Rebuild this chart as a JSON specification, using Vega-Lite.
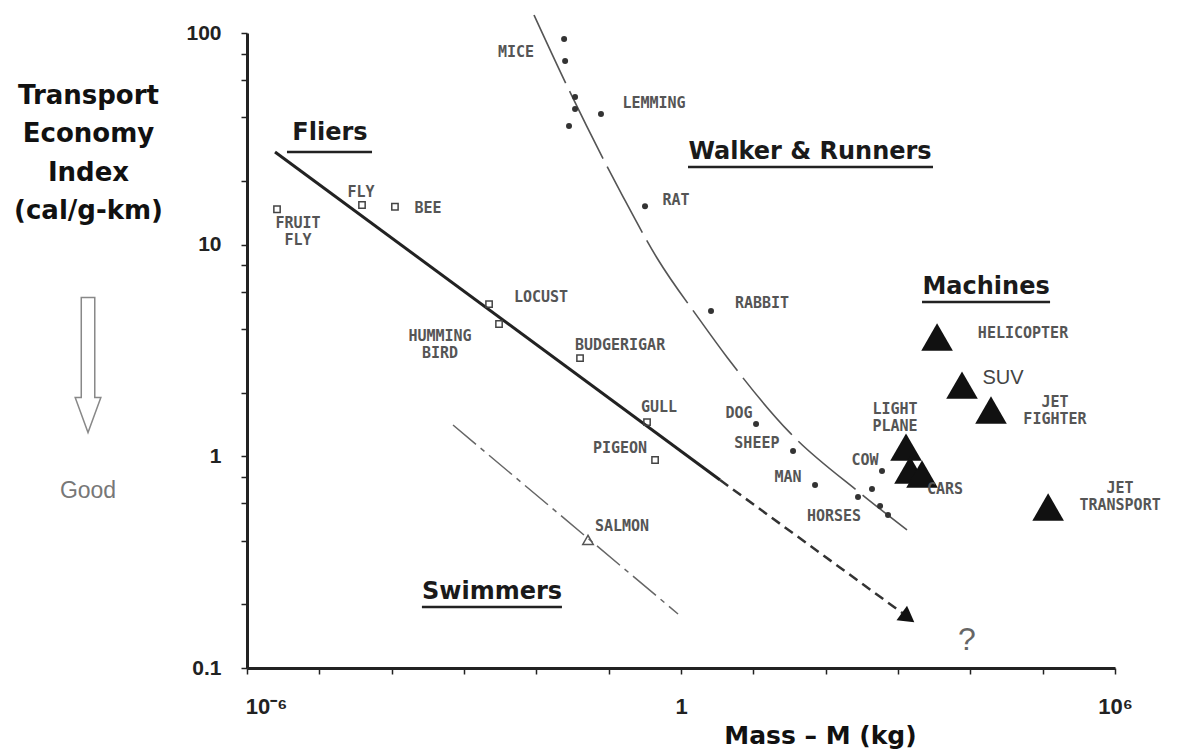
{
  "$schema": "https://vega.github.io/schema/vega-lite/v6.json",
  "width": 868,
  "height": 635,
  "autosize": {"type": "none"},
  "padding": {"left": 247, "top": 33, "right": 70, "bottom": 86},
  "background": "white",
  "config": {"view": {"stroke": null}, "axis": {"grid": false}},
  "datasets": {
    "walker_curve": [
      {"x": 0.00929, "y": 121.6}, {"x": 0.0274, "y": 55.0}, {"x": 0.153, "y": 17.2},
      {"x": 0.466, "y": 8.65}, {"x": 1.83, "y": 4.40}, {"x": 4.33, "y": 2.94},
      {"x": 32.2, "y": 1.29}, {"x": 299, "y": 0.671}, {"x": 1333, "y": 0.449}
    ],
    "fliers_line": [{"x": 2.44e-6, "y": 27.4}, {"x": 3.47, "y": 0.773}],
    "fliers_ext": [{"x": 3.47, "y": 0.773}, {"x": 1250, "y": 0.178}],
    "swim_line": [{"x": 7.05e-4, "y": 1.406}, {"x": 0.910, "y": 0.180}],
    "underlines": [
      {"x": 3.57e-6, "x2": 5.35e-5, "y": 27.4},
      {"x": 1.25, "x2": 3048, "y": 23.3},
      {"x": 2148, "x2": 126500, "y": 5.36},
      {"x": 2.62e-4, "x2": 0.0226, "y": 0.194}
    ],
    "fliers_pts": [
      {"name": "FRUIT FLY", "x": 2.60e-6, "y": 14.7},
      {"name": "FLY", "x": 3.89e-5, "y": 15.4},
      {"name": "BEE", "x": 1.11e-4, "y": 15.1},
      {"name": "LOCUST", "x": 2.22e-3, "y": 5.24},
      {"name": "HUMMING BIRD", "x": 3.05e-3, "y": 4.22},
      {"name": "BUDGERIGAR", "x": 0.0402, "y": 2.91},
      {"name": "GULL", "x": 0.339, "y": 1.452},
      {"name": "PIGEON", "x": 0.438, "y": 0.961}
    ],
    "walker_pts": [
      {"name": "MICE", "x": 0.0242, "y": 93.6},
      {"name": "MICE", "x": 0.0250, "y": 73.7},
      {"name": "MICE", "x": 0.0343, "y": 49.8},
      {"name": "MICE", "x": 0.0343, "y": 43.7},
      {"name": "MICE", "x": 0.0283, "y": 36.4},
      {"name": "LEMMING", "x": 0.0783, "y": 41.4},
      {"name": "RAT", "x": 0.318, "y": 15.2},
      {"name": "RABBIT", "x": 2.60, "y": 4.86},
      {"name": "DOG", "x": 10.9, "y": 1.42},
      {"name": "SHEEP", "x": 35.4, "y": 1.06},
      {"name": "MAN", "x": 71.3, "y": 0.732},
      {"name": "COW", "x": 601, "y": 0.852},
      {"name": "HORSES", "x": 280, "y": 0.642},
      {"name": "HORSES", "x": 437, "y": 0.701},
      {"name": "HORSES", "x": 565, "y": 0.582},
      {"name": "HORSES", "x": 728, "y": 0.528}
    ],
    "salmon": [{"name": "SALMON", "x": 0.0518, "y": 0.403}],
    "machines": [
      {"name": "HELICOPTER", "x": 3467, "y": 3.66},
      {"name": "SUV", "x": 7674, "y": 2.17},
      {"name": "JET FIGHTER", "x": 19300, "y": 1.655},
      {"name": "LIGHT PLANE", "x": 1291, "y": 1.106},
      {"name": "CARS", "x": 1466, "y": 0.862},
      {"name": "CARS", "x": 2148, "y": 0.825},
      {"name": "JET TRANSPORT", "x": 119000, "y": 0.576}
    ],
    "arrowhead": [{"x": 1377, "y": 0.173}],
    "labels": [
      {"label": "FRUIT\nFLY", "x": 5.07e-6, "y": 12.6},
      {"label": "FLY", "x": 3.77e-5, "y": 17.7},
      {"label": "BEE", "x": 3.18e-4, "y": 14.9},
      {"label": "LOCUST", "x": 0.01161, "y": 5.66},
      {"label": "HUMMING\nBIRD", "x": 4.66e-4, "y": 3.72},
      {"label": "BUDGERIGAR", "x": 0.1436, "y": 3.36},
      {"label": "GULL", "x": 0.497, "y": 1.71},
      {"label": "PIGEON", "x": 0.1436, "y": 1.094},
      {"label": "MICE", "x": 5.24e-3, "y": 81.3},
      {"label": "LEMMING", "x": 0.424, "y": 46.7},
      {"label": "RAT", "x": 0.853, "y": 16.3},
      {"label": "RABBIT", "x": 13.2, "y": 5.30},
      {"label": "DOG", "x": 6.34, "y": 1.60},
      {"label": "SHEEP", "x": 11.2, "y": 1.156},
      {"label": "MAN", "x": 30.2, "y": 0.798},
      {"label": "COW", "x": 350, "y": 0.961},
      {"label": "HORSES", "x": 130.6, "y": 0.522},
      {"label": "SALMON", "x": 0.153, "y": 0.469},
      {"label": "LIGHT\nPLANE", "x": 910, "y": 1.665},
      {"label": "CARS", "x": 4467, "y": 0.701},
      {"label": "HELICOPTER", "x": 53500, "y": 3.82},
      {"label": "JET\nFIGHTER", "x": 148000, "y": 1.815},
      {"label": "JET\nTRANSPORT", "x": 1175000, "y": 0.712}
    ],
    "suv_label": [{"label": "SUV", "x": 28300, "y": 2.34}],
    "titles": [
      {"label": "Fliers", "x": 1.404e-5, "y": 33.7},
      {"label": "Walker & Runners", "x": 60.8, "y": 27.4},
      {"label": "Machines", "x": 16500, "y": 6.31},
      {"label": "Swimmers", "x": 2.44e-3, "y": 0.2286}
    ],
    "qmark": [{"label": "?", "x": 8995, "y": 0.1356}],
    "good": [{"label": "Good", "x": 6.34e-9, "y": 0.686}],
    "good_arrow": [{"x": 6.34e-9, "y": 2.70}]
  },
  "encoding": {
    "x": {
      "field": "x",
      "type": "quantitative",
      "scale": {"type": "log", "domain": [1e-6, 1e6], "nice": false},
      "axis": {
        "title": "Mass – M (kg)",
        "values": [1e-6, 1e-5, 1e-4, 1e-3, 1e-2, 1e-1, 1, 10, 100, 1000, 10000, 100000, 1000000],
        "labelExpr": "datum.value < 2e-6 ? '10⁻⁶' : (datum.value > 0.5 && datum.value < 2) ? '1' : datum.value > 5e5 ? '10⁶' : ''",
        "labelFont": "Liberation Sans",
        "labelFontSize": 22,
        "labelFontWeight": "bold",
        "labelColor": "#222",
        "labelPadding": 22,
        "labelFlush": false,
        "labelOverlap": false,
        "labelOffset": {"condition": {"test": "datum.value < 2e-6", "value": 19}, "value": 0},
        "domainColor": "#222",
        "domainWidth": 3,
        "tickColor": "#222",
        "tickWidth": 1.5,
        "tickSize": 6,
        "titleFont": "DejaVu Sans",
        "titleFontSize": 25,
        "titleFontWeight": "bold",
        "titleColor": "#111",
        "titleX": 573,
        "titleY": 75,
        "titleBaseline": "alphabetic",
        "titleAlign": "center"
      }
    },
    "y": {
      "field": "y",
      "type": "quantitative",
      "scale": {"type": "log", "domain": [0.1, 100], "nice": false},
      "axis": {
        "title": ["Transport", "Economy", "Index", "(cal/g-km)"],
        "values": [0.1, 0.2, 0.4, 0.6, 0.8, 1, 2, 4, 6, 8, 10, 20, 40, 60, 80, 100],
        "labelExpr": "datum.value == 100 ? '100' : datum.value == 10 ? '10' : datum.value == 1 ? '1' : datum.value == 0.1 ? '0.1' : ''",
        "labelFont": "Liberation Sans",
        "labelFontSize": 21,
        "labelFontWeight": "bold",
        "labelColor": "#222",
        "labelPadding": 20,
        "labelFlush": false,
        "labelOverlap": false,
        "domainColor": "#222",
        "domainWidth": 3,
        "tickColor": "#222",
        "tickWidth": 1.5,
        "tickSize": 6,
        "titleFont": "DejaVu Sans",
        "titleFontSize": 26,
        "titleFontWeight": "bold",
        "titleColor": "#111",
        "titleAngle": 0,
        "titleAlign": "center",
        "titleBaseline": "alphabetic",
        "titleX": -159,
        "titleY": 70,
        "titleLineHeight": 38.5
      }
    }
  },
  "layer": [
    {"data": {"name": "walker_curve"}, "mark": {"type": "line", "interpolate": "monotone", "stroke": "#555", "strokeWidth": 1.6, "strokeDash": [75, 9]}},
    {"data": {"name": "fliers_line"}, "mark": {"type": "line", "stroke": "#222", "strokeWidth": 3}},
    {"data": {"name": "fliers_ext"}, "mark": {"type": "line", "stroke": "#333", "strokeWidth": 2.5, "strokeDash": [10, 6]}},
    {"data": {"name": "swim_line"}, "mark": {"type": "line", "stroke": "#666", "strokeWidth": 1.5, "strokeDash": [30, 6, 5, 6]}},
    {"data": {"name": "underlines"}, "mark": {"type": "rule", "stroke": "#222", "strokeWidth": 2.5}, "encoding": {"x2": {"field": "x2"}}},
    {"data": {"name": "fliers_pts"}, "mark": {"type": "point", "shape": "square", "filled": false, "size": 40, "stroke": "#444", "strokeWidth": 1.5, "opacity": 1}},
    {"data": {"name": "walker_pts"}, "mark": {"type": "point", "shape": "circle", "filled": true, "size": 36, "fill": "#333", "opacity": 1}},
    {"data": {"name": "salmon"}, "mark": {"type": "point", "shape": "triangle-up", "filled": false, "size": 110, "stroke": "#555", "strokeWidth": 1.5, "opacity": 1}},
    {"data": {"name": "machines"}, "mark": {"type": "point", "shape": "triangle-up", "filled": true, "size": 1000, "fill": "#111", "opacity": 1}},
    {"data": {"name": "arrowhead"}, "mark": {"type": "point", "shape": "triangle-right", "filled": true, "size": 320, "fill": "#111", "angle": 36, "opacity": 1}},
    {"data": {"name": "labels"}, "mark": {"type": "text", "font": "DejaVu Sans Mono", "fontSize": 15, "fontWeight": "bold", "fill": "#555", "align": "center", "baseline": "middle", "lineBreak": "\n", "lineHeight": 17}, "encoding": {"text": {"field": "label"}}},
    {"data": {"name": "suv_label"}, "mark": {"type": "text", "font": "Liberation Sans", "fontSize": 20, "fill": "#444", "align": "center", "baseline": "middle"}, "encoding": {"text": {"field": "label"}}},
    {"data": {"name": "titles"}, "mark": {"type": "text", "font": "DejaVu Sans", "fontSize": 24, "fontWeight": "bold", "fill": "#1a1a1a", "align": "center", "baseline": "middle"}, "encoding": {"text": {"field": "label"}}},
    {"data": {"name": "qmark"}, "mark": {"type": "text", "font": "Liberation Sans", "fontSize": 32, "fill": "#666", "align": "center", "baseline": "middle"}, "encoding": {"text": {"field": "label"}}},
    {"data": {"name": "good"}, "mark": {"type": "text", "font": "Liberation Sans", "fontSize": 23, "fill": "#777", "align": "center", "baseline": "middle"}, "encoding": {"text": {"field": "label"}}},
    {"data": {"name": "good_arrow"}, "mark": {"type": "point", "shape": "M-0.1,-1L0.1,-1L0.1,0.48L0.19,0.48L0,1L-0.19,0.48L-0.1,0.48Z", "filled": false, "size": 18225, "stroke": "#888", "strokeWidth": 1.5, "opacity": 1}}
  ]
}
